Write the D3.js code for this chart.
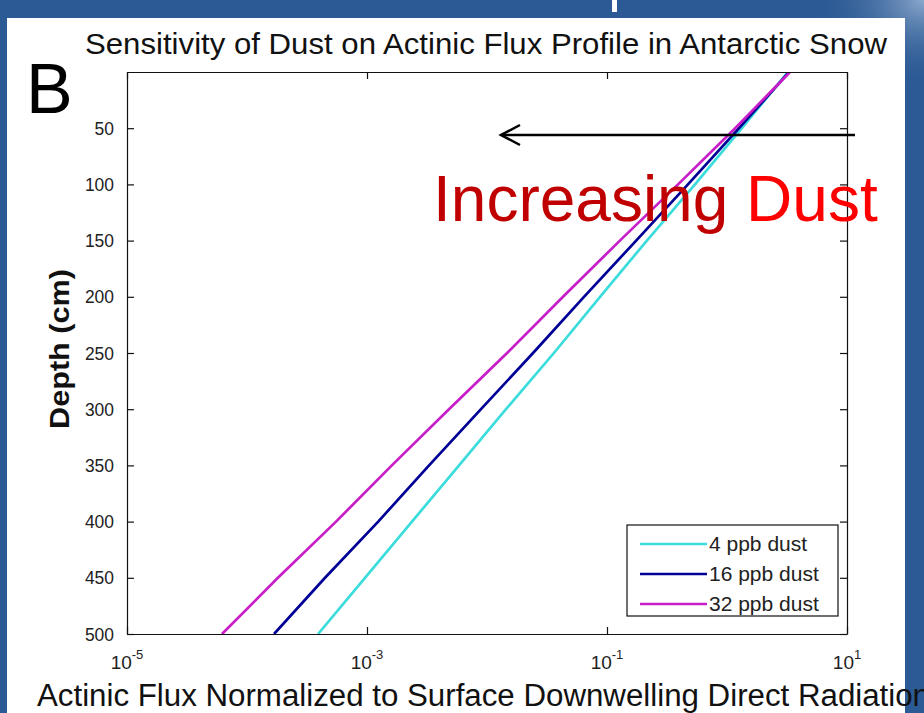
<!DOCTYPE html>
<html lang="en">
<head>
    <meta charset="utf-8">
    <script type="text/javascript" src="https://cdn.jsdelivr.net/npm/d3@7/dist/d3.min.js"></script>
    <style>
        body { margin: 0; background: #2c5a94; }
        svg { display: block; }
    </style>
</head>

<body>
    <script type="text/javascript">
        // SVG width and height
        let w = 924;
        let h = 713;

        // Data: depth (cm) and flux for each dust level
        let depths = [0, 50, 100, 150, 200, 250, 300, 350, 400, 450, 500];
        let flux4 = [3.22, 1.33, 0.541, 0.215, 0.0875, 0.0361, 0.0144, 0.00585, 0.00237, 9.62e-4, 3.91e-4];
        let flux16 = [3.29, 1.26, 0.473, 0.175, 0.0643, 0.0242, 0.00891, 0.00329, 0.00124, 4.47e-4, 1.68e-4];
        let flux32 = [3.35, 1.17, 0.391, 0.128, 0.0430, 0.0147, 0.00482, 0.00161, 5.52e-4, 1.81e-4, 6.19e-5];
        let seriesNames = ["4 ppb dust", "16 ppb dust", "32 ppb dust"];
        let seriesColors = ["#3cdcdc", "#000096", "#c81ec8"];

        // Tick values
        let yTicks = [50, 100, 150, 200, 250, 300, 350, 400, 450, 500];
        let xTicks = [1e-5, 1e-3, 1e-1, 1e1];
        let xTickExp = ["-5", "-3", "-1", "1"];

        let svg = d3.select("body").append("svg")
                    .attr("width", w)
                    .attr("height", h);

        // Slide background
        let defs = svg.append("defs");
        let glow = defs.append("radialGradient").attr("id", "glow")
            .attr("cx", "100%").attr("cy", "0%").attr("r", "12%");
        glow.append("stop").attr("offset", "0%").attr("stop-color", "#8aa8cc");
        glow.append("stop").attr("offset", "100%").attr("stop-color", "#2c5a94").attr("stop-opacity", 0);

        svg.append("rect").attr("width", w).attr("height", h).attr("fill", "#2c5a94");
        svg.append("rect").attr("width", w).attr("height", h).attr("fill", "url(#glow)");
        svg.append("rect").attr("x", 612).attr("y", 0).attr("width", 5).attr("height", 12).attr("fill", "#ffffff");
        svg.append("rect").attr("x", 7).attr("y", 18).attr("width", 898).attr("height", h - 18).attr("fill", "#ffffff");

        // Scales
        let x = d3.scaleLog().domain([1e-5, 10]).range([127, 847]);
        let y = d3.scaleLinear().domain([0, 500]).range([72, 634]);

        let font = "'Liberation Sans', Arial, sans-serif";

        // Lines
        let allFlux = [flux4, flux16, flux32];
        let line = d3.line()
            .x(d => x(d[1]))
            .y(d => y(d[0]));

        svg.append("clipPath").attr("id", "plotClip")
            .append("rect").attr("x", 127).attr("y", 72).attr("width", 720).attr("height", 562);

        svg.append("g").attr("clip-path", "url(#plotClip)")
            .selectAll("path")
            .data(allFlux)
            .join("path")
                .attr("d", f => line(depths.map((d, i) => [d, f[i]])))
                .attr("fill", "none")
                .attr("stroke", (f, i) => seriesColors[i])
                .attr("stroke-width", 2.7);

        // Axes with inside ticks
        let left = svg.append("g").attr("transform", "translate(127,0)")
            .call(d3.axisLeft(y).tickValues(yTicks).tickSizeInner(-7).tickSizeOuter(0).tickPadding(13));
        left.selectAll("text")
            .attr("font-family", font)
            .attr("font-size", 19)
            .attr("fill", "#222")
            .attr("textLength", d => String(d).length * 9.7)
            .attr("lengthAdjust", "spacingAndGlyphs");

        svg.append("g").attr("transform", "translate(847,0)")
            .call(d3.axisRight(y).tickValues(yTicks).tickSizeInner(-7).tickSizeOuter(0).tickFormat(""));

        svg.append("g").attr("transform", "translate(0,634)")
            .call(d3.axisBottom(x).tickValues(xTicks).tickSizeInner(-7).tickSizeOuter(0).tickFormat(""));

        svg.append("g").attr("transform", "translate(0,72)")
            .call(d3.axisTop(x).tickValues(xTicks).tickSizeInner(-7).tickSizeOuter(0).tickFormat(""));

        svg.selectAll(".domain, .tick line").attr("stroke", "#111").attr("stroke-width", 1.2);

        // x tick labels as 10 with superscript
        let xl = svg.append("g").selectAll("text")
            .data(xTicks)
            .join("text")
                .attr("x", d => x(d))
                .attr("y", 669)
                .attr("text-anchor", "middle")
                .attr("font-family", font)
                .attr("font-size", 19)
                .attr("fill", "#222");
        xl.append("tspan").text("10");
        xl.append("tspan").attr("dy", -10).attr("font-size", 13).text((d, i) => xTickExp[i]);

        // Titles
        svg.append("text")
            .attr("x", 486).attr("y", 54)
            .attr("text-anchor", "middle")
            .attr("font-family", font)
            .attr("font-size", 29)
            .attr("textLength", 802)
            .attr("lengthAdjust", "spacingAndGlyphs")
            .attr("fill", "#111")
            .text("Sensitivity of Dust on Actinic Flux Profile in Antarctic Snow");

        svg.append("text")
            .attr("x", 37).attr("y", 706)
            .attr("font-family", font)
            .attr("font-size", 31)
            .attr("textLength", 893)
            .attr("lengthAdjust", "spacingAndGlyphs")
            .attr("fill", "#111")
            .text("Actinic Flux Normalized to Surface Downwelling Direct Radiation");

        svg.append("text")
            .attr("transform", "translate(69,349) rotate(-90)")
            .attr("text-anchor", "middle")
            .attr("font-family", font)
            .attr("font-weight", "bold")
            .attr("font-size", 27)
            .attr("textLength", 160)
            .attr("lengthAdjust", "spacingAndGlyphs")
            .attr("fill", "#111")
            .text("Depth (cm)");

        // Panel letter
        svg.append("text")
            .attr("x", 26).attr("y", 113)
            .attr("font-family", font)
            .attr("font-size", 70)
            .attr("fill", "#000")
            .text("B");

        // Legend
        let lg = svg.append("g");
        lg.append("rect")
            .attr("x", 627).attr("y", 525).attr("width", 211).attr("height", 91)
            .attr("fill", "#fff").attr("stroke", "#111").attr("stroke-width", 1.2);
        let rows = lg.selectAll("g.row")
            .data(seriesNames)
            .join("g")
                .attr("class", "row")
                .attr("transform", (d, i) => "translate(0," + (544 + i * 30) + ")");
        rows.append("line")
            .attr("x1", 640).attr("x2", 707)
            .attr("stroke", (d, i) => seriesColors[i])
            .attr("stroke-width", 2.7);
        rows.append("text")
            .attr("x", 709).attr("y", 7)
            .attr("font-family", font)
            .attr("font-size", 21)
            .attr("fill", "#222")
            .text(d => d);

        // Annotation arrow and label
        svg.append("line")
            .attr("x1", 855).attr("y1", 135).attr("x2", 501).attr("y2", 135)
            .attr("stroke", "#000").attr("stroke-width", 2.5);
        svg.append("path")
            .attr("d", "M520,125 L501,135 L520,145")
            .attr("fill", "none").attr("stroke", "#000").attr("stroke-width", 2.5);

        let ann = svg.append("text")
            .attr("x", 433).attr("y", 221)
            .attr("font-family", font)
            .attr("font-size", 64);
        ann.append("tspan").attr("fill", "#c00000").text("Increasing ");
        ann.append("tspan").attr("fill", "#ff0000").text("Dust");
    </script>
</body>
</html>
